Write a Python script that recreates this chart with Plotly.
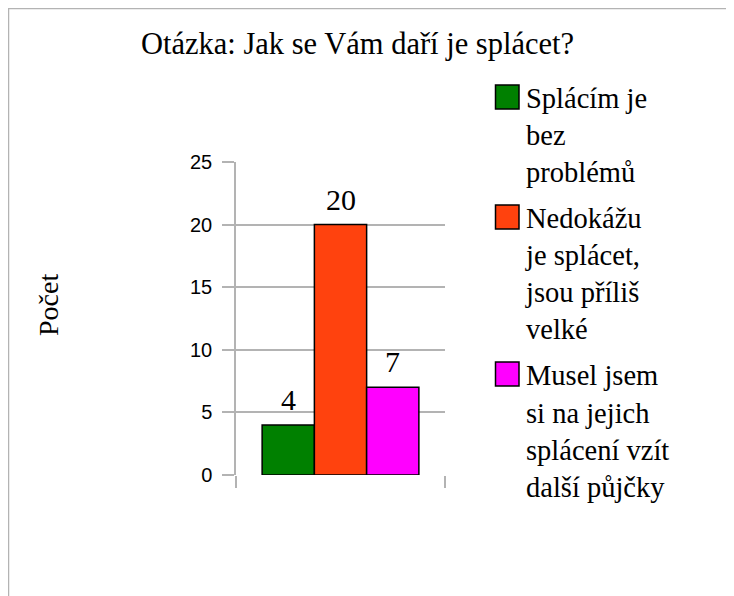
import plotly.graph_objects as go

title_text = "Otázka: Jak se Vám daří je splácet?"
y_title = "Počet"
series_names = [
    "Splácím je<br>bez<br>problémů",
    "Nedokážu<br>je splácet,<br>jsou příliš<br>velké",
    "Musel jsem<br>si na jejich<br>splácení vzít<br>další půjčky",
]
series_values = [4, 20, 7]
series_colors = ["#008000", "#ff420e", "#ff00ff"]
y_ticks = [0, 5, 10, 15, 20, 25]

SERIF = "Liberation Serif"
SANS = "Liberation Sans"
GRID = "#b3b3b3"

# page has an 8px body margin, so figure coords = reference coords - 8
OFF = 8
W, H = 734 - OFF, 596 - OFF
L, R, T, B = 236 - OFF, 445 - OFF, 162 - OFF, 475 - OFF
pw, ph = R - L, B - T

def px_x(px):
    return (px - OFF - L) / pw

def px_y(py):
    return (B - (py - OFF)) / ph

fig = go.Figure()
positions = list(range(len(series_values)))
for i, (name, val, col) in enumerate(zip(series_names, series_values, series_colors)):
    fig.add_trace(go.Bar(
        x=[positions[i]], y=[val], name=name, showlegend=False, width=1,
        marker=dict(color=col, line=dict(color="black", width=1.5)),
    ))
for i, (name, col) in enumerate(zip(series_names, series_colors)):
    fig.add_trace(go.Scatter(
        x=[None], y=[None], mode="markers", name=name, legendgroup=f"g{i}",
        marker=dict(symbol="square", size=16, color=col, line=dict(width=0)),
    ))

annotations = [
    dict(text=str(v), x=positions[i], y=v, xref="x", yref="y",
         xanchor="center", yanchor="bottom", yshift=7, showarrow=False,
         font=dict(family=SERIF, size=30, color="black"))
    for i, v in enumerate(series_values)
]
annotations += [
    dict(text=title_text, xref="paper", yref="paper", x=px_x(357.5), y=px_y(43.5),
         xanchor="center", yanchor="middle", showarrow=False,
         font=dict(family=SERIF, size=30.5, color="black")),
    dict(text=y_title, xref="paper", yref="paper", x=px_x(48), y=px_y(305),
         xanchor="center", yanchor="middle", showarrow=False, textangle=-90,
         font=dict(family=SERIF, size=28, color="black")),
]

# larger legend swatches (plotly caps legend marker size at 16px)
swatch_tops = [85, 205, 362]
shapes = [
    dict(type="path", xref="paper", yref="paper",
         path=f"M {px_x(8.5)},{px_y(700)} L {px_x(8.5)},{px_y(8.5)} L {px_x(800)},{px_y(8.5)}",
         line=dict(color=GRID, width=1.5)),
]
for col, top in zip(series_colors, swatch_tops):
    shapes.append(dict(type="rect", xref="paper", yref="paper", layer="above",
                       x0=px_x(495.5), x1=px_x(519), y0=px_y(top + 24), y1=px_y(top),
                       fillcolor=col, line=dict(color="black", width=1.5)))

fig.update_layout(
    width=W, height=H,
    margin=dict(l=L, r=W - R, t=T, b=H - B, pad=0),
    paper_bgcolor="white", plot_bgcolor="white",
    barmode="overlay",
    font=dict(family=SERIF, color="black"),
    showlegend=True,
    legend=dict(
        x=px_x(486), y=px_y(72), xanchor="left", yanchor="top",
        valign="top", itemsizing="trace", tracegroupgap=6, maxheight=700,
        font=dict(family=SERIF, size=28.5, color="black"),
        bgcolor="rgba(0,0,0,0)",
    ),
    xaxis=dict(
        range=[-1, 3], tickvals=[-1, 3], showticklabels=False,
        ticks="outside", ticklen=12, tickcolor=GRID, tickwidth=1.5,
        showgrid=True, gridcolor=GRID, gridwidth=1.5,
        showline=False, zeroline=False, fixedrange=True,
    ),
    yaxis=dict(
        range=[0, 25], tickvals=y_ticks, ticks="outside", ticklen=12,
        tickcolor=GRID, tickwidth=1.5,
        tickfont=dict(family=SANS, size=20, color="black"),
        showgrid=True, gridcolor=GRID, gridwidth=1.5,
        showline=True, linecolor=GRID, linewidth=1.5,
        zeroline=False, ticklabelstandoff=6, fixedrange=True,
    ),
    annotations=annotations,
    shapes=shapes,
)

fig.write_html("out.html")
